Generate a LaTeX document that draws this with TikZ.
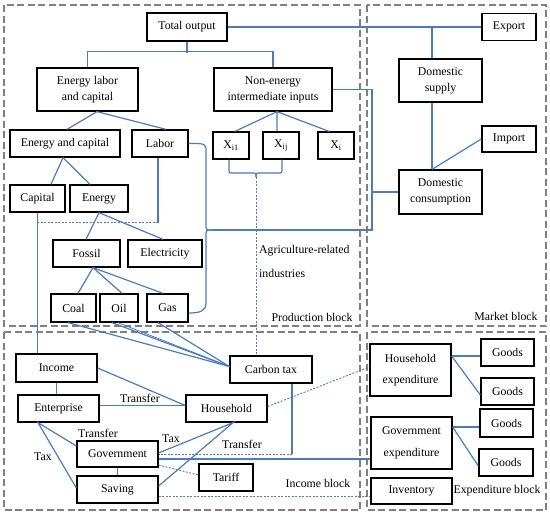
\documentclass[tikz,border=0pt]{standalone}
\usepackage{fontspec}
\setmainfont{Liberation Serif}
\begin{document}
\begin{tikzpicture}[x=1pt,y=-1pt,
  box/.style={draw=black,line width=1.3pt,fill=white,inner sep=0pt,align=center,font=\fontsize{11.8}{16}\selectfont},
  ln/.style={draw={rgb,255:red,74;green,124;blue,190},line width=1.2pt},
  dsh/.style={ln,line width=0.9pt,dash pattern=on 2pt off 1.5pt},
  blk/.style={draw={rgb,255:red,128;green,128;blue,128},line width=2.6pt,dash pattern=on 7pt off 3.5pt},
  lbl/.style={inner sep=0pt,font=\fontsize{11.8}{14}\selectfont}]
\useasboundingbox (0,0) rectangle (550,514);
% blocks
\draw[blk] (4,5) rectangle (360,326);
\draw[blk] (367,5) rectangle (546,326);
\draw[blk] (4,332) rectangle (360,510);
\draw[blk] (367,332) rectangle (546,510);
% nodes
\node[box,minimum width=80pt,minimum height=28pt] (tot) at (187,27) {Total output};
\node[box,minimum width=101pt,minimum height=43pt] (elc) at (87.5,89.5) {Energy labor\\and capital};
\node[box,minimum width=118pt,minimum height=43pt] (nei) at (273,89.5) {Non-energy\\intermediate inputs};
\node[box,minimum width=110pt,minimum height=27pt] (eac) at (65,143.5) {Energy and capital};
\node[box,minimum width=56pt,minimum height=27pt] (lab) at (160,143.5) {Labor};
\node[box,minimum width=36pt,minimum height=27pt] (x1) at (231,145.5) {X\textsubscript{i1}};
\node[box,minimum width=36pt,minimum height=27pt] (x2) at (281,145.5) {X\textsubscript{ij}};
\node[box,minimum width=36pt,minimum height=27pt] (x3) at (336,145.5) {X\textsubscript{i}};
\node[box,minimum width=54pt,minimum height=27pt] (exp) at (509,27) {Export};
\node[box,minimum width=83pt,minimum height=43pt] (dsup) at (440.5,80.5) {Domestic\\supply};
\node[box,minimum width=54pt,minimum height=26pt] (imp) at (509,139) {Import};
\node[box,minimum width=83pt,minimum height=44pt] (dcon) at (440.5,192) {Domestic\\consumption};
\node[box,minimum width=55pt,minimum height=27pt] (cap) at (37.5,198.5) {Capital};
\node[box,minimum width=58pt,minimum height=27pt] (ene) at (99,198.5) {Energy};
\node[box,minimum width=67pt,minimum height=27pt] (fos) at (86.5,253.5) {Fossil};
\node[box,minimum width=74pt,minimum height=27pt] (ele) at (165,253.5) {Electricity};
\node[box,minimum width=45pt,minimum height=28pt] (coal) at (73.5,308) {Coal};
\node[box,minimum width=38pt,minimum height=28pt] (oil) at (119,308) {Oil};
\node[box,minimum width=41pt,minimum height=28pt] (gas) at (167.5,308) {Gas};
\node[box,minimum width=81pt,minimum height=28pt] (inc) at (56.5,368) {Income};
\node[box,minimum width=82pt,minimum height=27pt] (ctax) at (271,369.5) {Carbon tax};
\node[box,minimum width=81pt,minimum height=27pt] (ent) at (58.5,408.5) {Enterprise};
\node[box,minimum width=81pt,minimum height=27pt] (hh) at (226.5,408.5) {Household};
\node[box,minimum width=81pt,minimum height=26pt] (gov) at (117.5,454) {Government};
\node[box,minimum width=81pt,minimum height=27pt] (sav) at (117.5,489.5) {Saving};
\node[box,minimum width=54pt,minimum height=27pt] (tar) at (226,477.5) {Tariff};
\node[box,minimum width=81pt,minimum height=52pt] (hexp) at (410.5,370) {Household\\[5.5pt]expenditure};
\node[box,minimum width=53pt,minimum height=27pt] (g1) at (507.5,352.5) {Goods};
\node[box,minimum width=53pt,minimum height=27pt] (g2) at (507.5,391.5) {Goods};
\node[box,minimum width=53pt,minimum height=28pt] (g3) at (506.5,423) {Goods};
\node[box,minimum width=54pt,minimum height=27pt] (g4) at (506,462.5) {Goods};
\node[box,minimum width=81pt,minimum height=52pt] (gexp) at (411.5,443) {Government\\[5.5pt]expenditure};
\node[box,minimum width=81pt,minimum height=26pt] (inv) at (411.5,491) {Inventory};
% labels
\node[lbl] (t1) at (140,398) {Transfer};
\node[lbl] (t2) at (98,433) {Transfer};
\node[lbl] (t3) at (43,457) {Tax};
\node[lbl] (t4) at (171,439) {Tax};
\node[lbl] (t5) at (242,444) {Transfer};
\node[lbl] (b1) at (318,483) {Income block};
\node[lbl] (b2) at (497,491) {Expenditure block};
\node[lbl] (b3) at (312,317) {Production block};
\node[lbl] (b4) at (506,316) {Market block};
\node[lbl,anchor=west] (ag1) at (259,251) {Agriculture-related};
\node[lbl,anchor=west] (ag2) at (259,273) {industries};
% coordinates
\coordinate (bt) at (212,230);
\coordinate (mk) at (372,230);
\coordinate (xt) at (256,177);
% connectors production
\draw[ln] (elc.north) -- ++(0,-16) -| (nei.north);
\draw[ln] (tot.south) -- ++(0,11);
\draw[ln] (tot.east) -- (exp.west);
\draw[ln] ([xshift=-8.5pt]dsup.north) -- ([xshift=-8.5pt]dsup.north |- tot.east);
\draw[ln] ([xshift=-8.5pt]dsup.south) -- ([xshift=-8.5pt]dcon.north);
\draw[ln] (imp.west) -- ([xshift=-8.5pt]dcon.north);
\draw[ln] ([xshift=2pt]eac.north) -- ([xshift=9.5pt]elc.south) -- ([xshift=6pt]lab.north);
\draw[ln] ([xshift=4pt]x1.north) -- ([xshift=4pt]nei.south) -- ([xshift=-4pt]x2.north);
\draw[ln] ([xshift=4pt]nei.south) -- ([xshift=-7pt]x3.north);
\draw[ln] ([xshift=13.5pt]cap.north) -- ([xshift=-2pt]eac.south) -- ([xshift=-9pt]ene.north);
\draw[ln] ([xshift=-2pt]lab.south) -- ++(0,65) coordinate (labc);
\draw[dsh] (labc) -- (labc -| cap.south);
\draw[ln] (cap.south) -- (cap.south |- inc.north);
\draw[ln] ([xshift=-0.5pt]fos.north) -- (ene.south) -- ([xshift=-2pt]ele.north);
\draw[ln] ([xshift=4.5pt]coal.north) -- ([xshift=6.5pt]fos.south) -- ([xshift=3pt]oil.north);
\draw[ln] ([xshift=6.5pt]fos.south) -- ([xshift=-4.5pt]gas.north);
\draw[ln] ([xshift=-5.5pt]coal.south) -- ([yshift=3pt]ctax.west);
\draw[ln] ([xshift=-7pt]oil.south) -- ([yshift=3pt]ctax.west);
\draw[ln,line width=0.8pt] ([xshift=-1pt]oil.south) -- ([yshift=3pt]ctax.west);
\draw[ln] ([xshift=-9.5pt]gas.south) -- ([yshift=3pt]ctax.west);
% brace from labor to gas
\draw[ln] (lab.east) .. controls (206,143.5) .. (206,152) -- (206,224) .. controls (206,230) .. (bt);
\draw[ln] (bt) .. controls (206,230) .. (206,236) -- (206,303) .. controls (206,311) and (200,313) .. ([yshift=-5pt]gas.east);
\draw[ln] (bt) -- (mk) |- (nei.east);
\draw[ln] (mk |- dcon.west) -- (dcon.west);
% brace under X
\draw[ln] ([xshift=-2pt]x1.south) -- (229,169) .. controls (229,173) .. (233,173) -- (252,173) .. controls (256,173) .. (xt);
\draw[ln] ([xshift=1pt]x2.south) -- (282,169) .. controls (282,173) .. (278,173) -- (260,173) .. controls (256,173) .. (xt);
\draw[dsh] (xt) -- ([xshift=-15pt]ctax.north);
% income block
\draw[ln] (inc.south) -- (inc.south |- ent.north);
\draw[ln] (inc.east) -- ([yshift=3pt]hh.west);
\draw[ln] ([yshift=3pt]ent.east) -- ([yshift=3pt]hh.west);
\draw[ln] ([yshift=8pt]gov.west) -- ([xshift=-20.5pt]ent.south) -- ([yshift=1.5pt]sav.west);
\draw[ln] ([yshift=1pt]gov.east) -- ([xshift=6.5pt]hh.south) -- ([yshift=3.5pt]sav.east);
\coordinate (ctb) at ([xshift=21pt]ctax.south |- gov.east);
\draw[ln] ([xshift=21pt]ctax.south) -- (ctb);
\draw[dsh] (ctb) -- (gov.east);
\draw[ln] ([yshift=-5pt]gov.east) -- ([yshift=-5pt]gov.east -| gexp.west);
\draw[dsh] ([yshift=-11pt]gov.east) -- ([yshift=2.5pt]tar.west);
\draw[ln] (gov.south) -- (sav.north);
\draw[dsh] ([yshift=-6.5pt]sav.east) -- ([yshift=-6.5pt]sav.east -| inv.west);
\draw[dsh] ([yshift=2pt]hh.east) -- ([yshift=3pt]hexp.west);
% expenditure block
\draw[ln] ([yshift=14pt]hexp.east) -- ([yshift=14pt]hexp.east -| g1.west);
\draw[ln] ([yshift=14pt]hexp.east) -- ([yshift=-3.5pt]g2.west);
\draw[ln] ([yshift=16pt]gexp.east) -- ([yshift=16pt]gexp.east -| g3.west);
\draw[ln] ([yshift=16pt]gexp.east) -- ([yshift=-3.5pt]g4.west);
\end{tikzpicture}
\end{document}
